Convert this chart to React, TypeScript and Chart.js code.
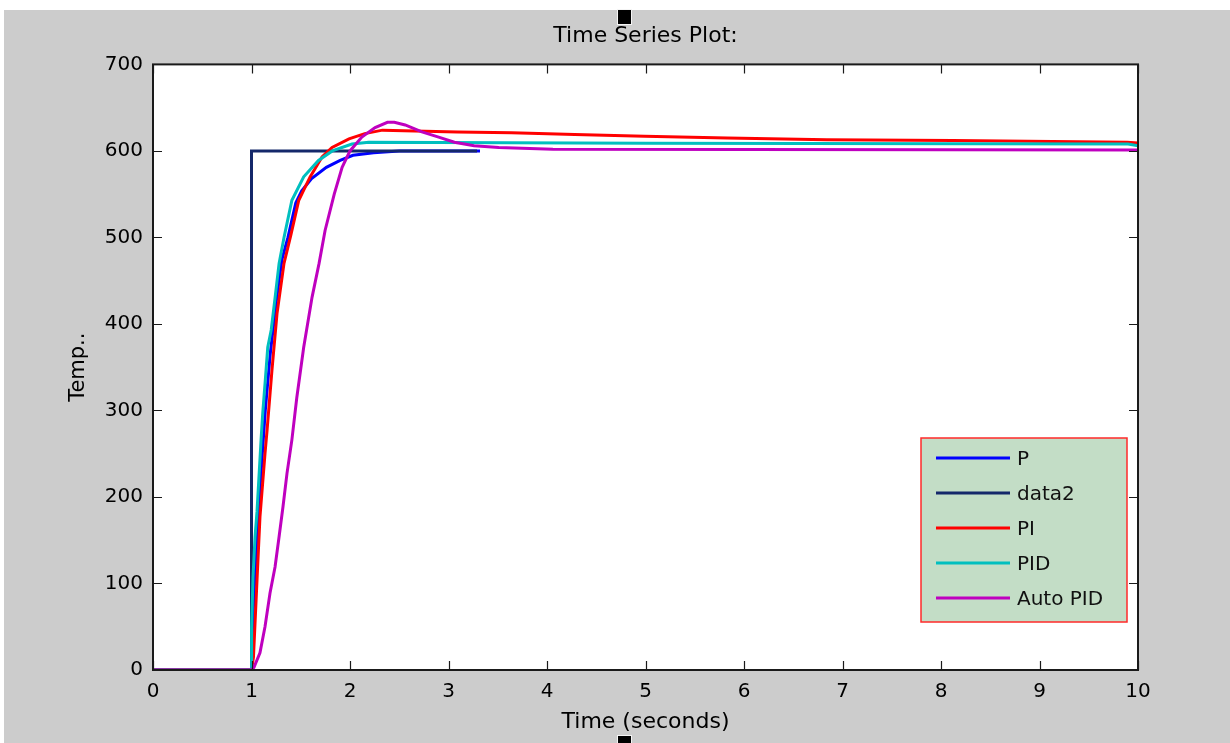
import React, { useEffect, useRef } from "react";
import { Chart, registerables } from "chart.js";

Chart.register(...registerables);

// ---- data ----
const pTime = [0, 1, 1.01, 1.035, 1.056, 1.075, 1.11, 1.14, 1.19, 1.25, 1.31, 1.37, 1.45, 1.51, 1.61, 1.76, 1.9, 2.03, 2.24, 2.5, 3.32];
const pTemp = [0, 0, 50, 110, 150, 190, 250, 300, 365, 425, 475, 500, 540, 554, 568, 581, 589, 595, 598, 600, 600];

const data2Time = [0, 1, 1, 3.29];
const data2Temp = [0, 0, 600, 600];

const piTime = [0, 1, 1.02, 1.056, 1.086, 1.137, 1.158, 1.208, 1.259, 1.33, 1.4, 1.48, 1.595, 1.716, 1.818, 1.99, 2.15, 2.33, 3.09, 3.64, 4.28, 4.99, 5.83, 6.84, 8.12, 9.89, 10];
const piTemp = [0, 0, 15, 104, 177, 250, 277, 347, 412, 470, 503, 543, 570, 593, 604, 614, 620, 624, 622, 621, 619, 617, 615, 613, 612, 610, 609];

const pidTime = [0, 1, 1.001, 1.015, 1.036, 1.056, 1.097, 1.114, 1.14, 1.165, 1.2, 1.24, 1.28, 1.33, 1.41, 1.53, 1.68, 1.82, 2.02, 2.19, 5.0, 9.9, 10];
const pidTemp = [0, 0, 48, 107, 154, 183, 266, 297, 335, 373, 393, 431, 470, 500, 543, 570, 589, 600, 608, 610, 609, 608, 606];

const autoTime = [0, 1, 1.025, 1.086, 1.137, 1.188, 1.239, 1.28, 1.32, 1.36, 1.41, 1.46, 1.53, 1.615, 1.686, 1.747, 1.84, 1.92, 2.0, 2.12, 2.255, 2.38, 2.45, 2.56, 2.73, 2.9, 3.06, 3.26, 3.51, 4.06, 10];
const autoTemp = [0, 0, 3, 20, 50, 89, 119, 154, 189, 227, 266, 315, 373, 431, 470, 508, 550, 581, 600, 616, 627, 633, 633, 630, 622, 616, 610, 606, 604, 602, 601];

const seriesNames = ["P", "data2", "PI", "PID", "Auto PID"];
const seriesTimes = [pTime, data2Time, piTime, pidTime, autoTime];
const seriesTemps = [pTemp, data2Temp, piTemp, pidTemp, autoTemp];
const seriesColors = ["#0000ff", "#14286a", "#ff0000", "#00bfbf", "#bf00bf"];

const titleText = "Time Series Plot:";
const xTitle = "Time (seconds)";
const yTitle = "Temp..";

const FONT = "'DejaVu Sans', 'Liberation Sans', sans-serif";

const decorPlugin = {
  id: "decor",
  beforeDraw(chart: any) {
    const { ctx, width, height } = chart;
    const { left, top, right, bottom } = chart.chartArea;
    ctx.save();
    ctx.fillStyle = "#ffffff";
    ctx.fillRect(0, 0, width, height);
    ctx.fillStyle = "#cccccc";
    ctx.fillRect(4, 10, width - 4, height - 10);
    ctx.fillStyle = "#ffffff";
    ctx.fillRect(left, top, right - left, bottom - top);
    // window handles
    ctx.fillStyle = "#f4f4f4";
    ctx.fillRect(617, 9, 15, 16);
    ctx.fillStyle = "#000000";
    ctx.fillRect(618, 10, 13, 14);
    ctx.fillStyle = "#f4f4f4";
    ctx.fillRect(617, 735, 15, 8);
    ctx.fillStyle = "#000000";
    ctx.fillRect(618, 736, 13, 7);
    ctx.restore();
  },
  afterDatasetsDraw(chart: any) {
    const { ctx } = chart;
    const { left, top, right, bottom } = chart.chartArea;
    const xs = chart.scales.x;
    const ys = chart.scales.y;
    ctx.save();
    ctx.strokeStyle = "#1a1a1a";
    ctx.lineWidth = 1.2;
    const tl = 9;
    ctx.beginPath();
    for (const t of xs.ticks) {
      const px = Math.round(xs.getPixelForValue(t.value)) + 0.5;
      ctx.moveTo(px, bottom);
      ctx.lineTo(px, bottom - tl);
      ctx.moveTo(px, top);
      ctx.lineTo(px, top + tl);
    }
    for (const t of ys.ticks) {
      const py = Math.round(ys.getPixelForValue(t.value)) + 0.5;
      ctx.moveTo(left, py);
      ctx.lineTo(left + tl, py);
      ctx.moveTo(right, py);
      ctx.lineTo(right - tl, py);
    }
    ctx.stroke();
    ctx.lineWidth = 2;
    ctx.strokeRect(left, top, right - left, bottom - top);
    ctx.restore();
  },
  afterDraw(chart: any) {
    const { ctx } = chart;
    const { right, bottom } = chart.chartArea;
    const bx = right - 217;
    const by = bottom - 232;
    const bw = 206;
    const bh = 184;
    ctx.save();
    ctx.fillStyle = "#c3ddc6";
    ctx.fillRect(bx, by, bw, bh);
    ctx.strokeStyle = "#ff2a2a";
    ctx.lineWidth = 1.5;
    ctx.strokeRect(bx, by, bw, bh);
    ctx.font = `20px ${FONT}`;
    ctx.textBaseline = "middle";
    ctx.textAlign = "left";
    seriesNames.forEach((name, i) => {
      const ry = by + 20 + i * 35;
      ctx.strokeStyle = seriesColors[i];
      ctx.lineWidth = 3;
      ctx.beginPath();
      ctx.moveTo(bx + 15, ry);
      ctx.lineTo(bx + 89, ry);
      ctx.stroke();
      ctx.fillStyle = "#111111";
      ctx.fillText(name, bx + 96, ry + 2);
    });
    ctx.restore();
  },
};

export default function App() {
  const ref = useRef<HTMLCanvasElement | null>(null);

  useEffect(() => {
    document.body.style.margin = "0";
    const canvas = ref.current;
    if (!canvas) return;
    const datasets = seriesNames.map((name, i) => ({
      label: name,
      data: seriesTimes[i].map((t, j) => ({ x: t, y: seriesTemps[i][j] })),
      borderColor: seriesColors[i],
      backgroundColor: seriesColors[i],
      borderWidth: 3,
      pointRadius: 0,
      tension: 0,
      fill: false,
      order: seriesNames.length - i,
    }));
    const chart = new Chart(canvas, {
      type: "line",
      data: { datasets },
      options: {
        animation: false,
        responsive: false,
        devicePixelRatio: 1,
        layout: { padding: { left: 0, right: 92, top: 0, bottom: 0 } },
        plugins: {
          legend: { display: false },
          tooltip: { enabled: false },
          title: {
            display: true,
            fullSize: false,
            text: titleText,
            color: "#000000",
            font: { family: FONT, size: 22, weight: "normal", lineHeight: 1.2 },
            padding: { top: 23, bottom: 15 },
          },
        },
        scales: {
          x: {
            type: "linear",
            min: 0,
            max: 10,
            ticks: {
              stepSize: 1,
              maxRotation: 0,
              autoSkip: false,
              color: "#000000",
              padding: 10,
              font: { family: FONT, size: 20 },
            },
            grid: { display: false, drawTicks: false },
            border: { display: false },
            title: {
              display: true,
              text: xTitle,
              color: "#000000",
              font: { family: FONT, size: 22, lineHeight: 1.2 },
              padding: { top: 0, bottom: 8 },
            },
            afterFit: (s: any) => {
              s.height = 73;
            },
          },
          y: {
            type: "linear",
            min: 0,
            max: 700,
            ticks: {
              stepSize: 100,
              color: "#000000",
              padding: 10,
              font: { family: FONT, size: 20 },
            },
            grid: { display: false, drawTicks: false },
            border: { display: false },
            title: {
              display: true,
              text: yTitle,
              color: "#000000",
              font: { family: FONT, size: 21, lineHeight: 1.2 },
              padding: { top: 66, bottom: 0 },
            },
            afterFit: (s: any) => {
              s.width = 153;
            },
          },
        },
      },
      plugins: [decorPlugin],
    });
    return () => chart.destroy();
  }, []);

  return (
    <div style={{ width: 1230, height: 743, position: "relative" }}>
      <canvas ref={ref} width={1230} height={743} style={{ display: "block", width: 1230, height: 743 }} />
    </div>
  );
}
